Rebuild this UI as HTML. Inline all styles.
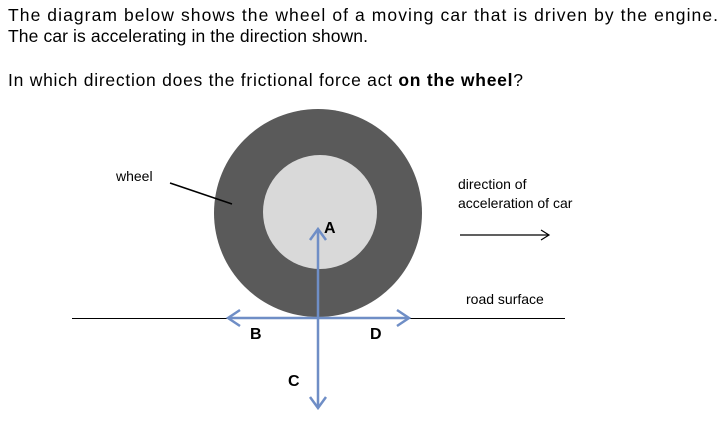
<!DOCTYPE html>
<html><head><meta charset="utf-8"><style>
html,body{margin:0;padding:0;background:#fff;width:728px;height:421px;overflow:hidden}
</style></head><body>
<svg width="728" height="421" style="position:absolute;left:0;top:0" font-family="Liberation Sans, sans-serif">
<text x="8" y="21" font-size="17.5" textLength="710" lengthAdjust="spacing">The diagram below shows the wheel of a moving car that is driven by the engine.</text>
<text x="8" y="42" font-size="17.5" textLength="360" lengthAdjust="spacing">The car is accelerating in the direction shown.</text>
<text x="8" y="86" font-size="17.5" textLength="515" lengthAdjust="spacing">In which direction does the frictional force act <tspan font-weight="bold">on the wheel</tspan>?</text>
<circle cx="318" cy="213" r="104" fill="#5a5a5a"/>
<circle cx="320" cy="212" r="57" fill="#d9d9d9"/>
<line x1="72" y1="318.5" x2="565" y2="318.5" stroke="#000" stroke-width="1"/>
<line x1="170" y1="183" x2="232" y2="204" stroke="#000" stroke-width="1.5"/>
<text x="116" y="181" font-size="14">wheel</text>
<text x="458" y="189" font-size="14">direction of</text>
<text x="458" y="208" font-size="14">acceleration of car</text>
<line x1="460" y1="235" x2="548" y2="235" stroke="#000" stroke-width="1.2"/>
<polyline points="541,230 549,235 541,240" fill="none" stroke="#000" stroke-width="1.2"/>
<text x="466" y="304" font-size="14">road surface</text>
<g stroke="#6f8ec6" stroke-width="2.5" fill="none">
<line x1="318" y1="230" x2="318" y2="408"/>
<line x1="228" y1="318" x2="409" y2="318"/>
<polyline points="310,240 318,229 326,240"/>
<polyline points="310,397 318,408 326,397"/>
<polyline points="240,310 228,318 240,326"/>
<polyline points="397,310 409,318 397,326"/>
</g>
<g font-size="16" font-weight="bold">
<text x="324" y="233">A</text>
<text x="250" y="339">B</text>
<text x="288" y="386">C</text>
<text x="370" y="339">D</text>
</g>
</svg>
</body></html>
